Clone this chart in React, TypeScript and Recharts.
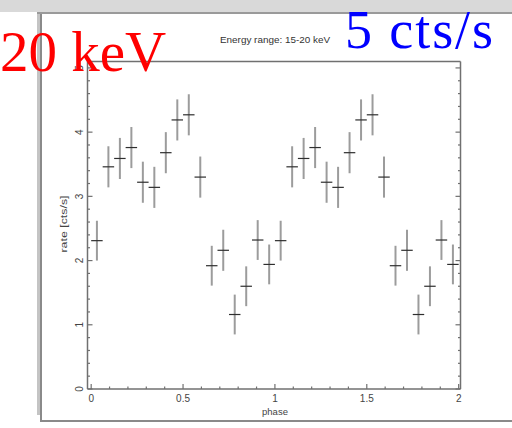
import React from 'react';
import { ScatterChart, Scatter, XAxis, YAxis, ErrorBar } from 'recharts';

// folded light curve, 16 bins per cycle, shown twice
const phases = [
  0.03125, 0.09375, 0.15625, 0.21875, 0.28125, 0.34375, 0.40625, 0.46875,
  0.53125, 0.59375, 0.65625, 0.71875, 0.78125, 0.84375, 0.90625, 0.96875,
  1.03125, 1.09375, 1.15625, 1.21875, 1.28125, 1.34375, 1.40625, 1.46875,
  1.53125, 1.59375, 1.65625, 1.71875, 1.78125, 1.84375, 1.90625, 1.96875,
];
const rates = [
  2.31, 3.46, 3.59, 3.76, 3.22, 3.14, 3.68, 4.19,
  4.27, 3.30, 1.92, 2.16, 1.16, 1.60, 2.32, 1.94,
  2.31, 3.46, 3.59, 3.76, 3.22, 3.14, 3.68, 4.19,
  4.27, 3.30, 1.92, 2.16, 1.16, 1.60, 2.32, 1.94,
];
const rateErrs = [
  0.31, 0.32, 0.32, 0.32, 0.32, 0.32, 0.32, 0.32,
  0.32, 0.32, 0.31, 0.32, 0.31, 0.31, 0.31, 0.31,
  0.31, 0.32, 0.32, 0.32, 0.32, 0.32, 0.32, 0.32,
  0.32, 0.32, 0.31, 0.32, 0.31, 0.31, 0.31, 0.31,
];
const binHalfWidth = 0.03125;

const xTicks = [0, 0.1, 0.2, 0.3, 0.4, 0.5, 0.6, 0.7, 0.8, 0.9, 1, 1.1, 1.2, 1.3, 1.4, 1.5, 1.6, 1.7, 1.8, 1.9, 2];
const xMajor = [0, 0.5, 1, 1.5, 2];
const xLabels = ['0', '0.5', '1', '1.5', '2'];
const yTicks = [0, 0.2, 0.4, 0.6, 0.8, 1, 1.2, 1.4, 1.6, 1.8, 2, 2.2, 2.4, 2.6, 2.8, 3, 3.2, 3.4, 3.6, 3.8, 4, 4.2, 4.4, 4.6, 4.8, 5];
const yMajor = [0, 1, 2, 3, 4, 5];
const yLabels = ['0', '1', '2', '3', '4', '5'];

const data = phases.map((p, i) => ({ phase: p, rate: rates[i], rateErr: rateErrs[i], phaseErr: binHalfWidth }));

const AXIS = '#707070';
const TEXT = '#444';
const FONT = '"Liberation Sans", Arial, sans-serif';
const SERIF = '"Liberation Serif", "Times New Roman", serif';

const find = (v: number, at: number[], labels: string[]) => {
  const i = at.findIndex((a) => Math.abs(a - v) < 1e-6);
  return i >= 0 ? labels[i] : null;
};

const BottomTick = ({ x, y, payload }: any) => {
  const lab = find(payload.value, xMajor, xLabels);
  return (
    <g>
      <line x1={x} x2={x} y1={y} y2={y - (lab ? 5 : 2.5)} stroke={AXIS} strokeWidth={1.2} />
      {lab && (
        <text x={x} y={y + 13} textAnchor="middle" fontSize={10} fill={TEXT} fontFamily={FONT}>
          {lab}
        </text>
      )}
    </g>
  );
};

const TopTick = ({ x, y, payload }: any) => {
  const major = find(payload.value, xMajor, xLabels);
  return <line x1={x} x2={x} y1={y} y2={y + (major ? 5 : 2.5)} stroke={AXIS} strokeWidth={1.2} />;
};

const LeftTick = ({ x, y, payload }: any) => {
  const lab = find(payload.value, yMajor, yLabels);
  const tx = x - 4.5;
  return (
    <g>
      <line x1={x} x2={x + (lab ? 5 : 2.5)} y1={y} y2={y} stroke={AXIS} strokeWidth={1.2} />
      {lab && (
        <text x={tx} y={y} transform={`rotate(-90 ${tx} ${y})`} textAnchor="middle" fontSize={10} fill={TEXT} fontFamily={FONT}>
          {lab}
        </text>
      )}
    </g>
  );
};

const RightTick = ({ x, y, payload }: any) => {
  const major = find(payload.value, yMajor, yLabels);
  return <line x1={x} x2={x - (major ? 5 : 2.5)} y1={y} y2={y} stroke={AXIS} strokeWidth={1.2} />;
};

const axisLine = { stroke: AXIS, strokeWidth: 1.5 };

export default function App() {
  return (
    <div style={{ position: 'absolute', left: 0, top: 0, width: 512, height: 428, background: '#fff', overflow: 'hidden' }}>
      {/* slide background strip and picture frame */}
      <div style={{ position: 'absolute', left: 0, top: 0, width: 512, height: 12, background: '#d9d9d9' }} />
      <div style={{ position: 'absolute', left: 37, top: 12, width: 3, height: 403, background: '#c4c4c4' }} />
      <div style={{ position: 'absolute', left: 40, top: 12, width: 1.5, height: 409, background: '#8a8a8a' }} />
      <div style={{ position: 'absolute', left: 37, top: 12, width: 475, height: 2, background: '#9a9a9a' }} />
      <div style={{ position: 'absolute', left: 40, top: 420, width: 472, height: 1.5, background: '#8a8a8a' }} />

      <div style={{ position: 'absolute', left: 0, top: 0 }}>
        <ScatterChart width={512} height={428} margin={{ top: 31.5, right: 21.5, bottom: 9, left: 27.5 }}>
          <XAxis
            type="number"
            dataKey="phase"
            domain={[-0.02, 2.01]}
            ticks={xTicks}
            interval={0}
            allowDataOverflow
            height={30}
            tickSize={0}
            tickMargin={0}
            tickLine={false}
            axisLine={axisLine}
            tick={(p: any) => <BottomTick {...p} />}
          />
          <XAxis
            xAxisId="top"
            orientation="top"
            type="number"
            domain={[-0.02, 2.01]}
            ticks={xTicks}
            interval={0}
            allowDataOverflow
            height={30}
            tickSize={0}
            tickMargin={0}
            tickLine={false}
            axisLine={axisLine}
            tick={(p: any) => <TopTick {...p} />}
          />
          <YAxis
            type="number"
            dataKey="rate"
            domain={[0, 5.1]}
            ticks={yTicks}
            interval={0}
            allowDataOverflow
            width={60}
            tickSize={0}
            tickMargin={0}
            tickLine={false}
            axisLine={axisLine}
            tick={(p: any) => <LeftTick {...p} />}
          />
          <YAxis
            yAxisId="right"
            orientation="right"
            type="number"
            domain={[0, 5.1]}
            ticks={yTicks}
            interval={0}
            allowDataOverflow
            width={30}
            tickSize={0}
            tickMargin={0}
            tickLine={false}
            axisLine={axisLine}
            tick={(p: any) => <RightTick {...p} />}
          />
          <Scatter data={data} isAnimationActive={false} shape={() => <g />}>
            <ErrorBar dataKey="rateErr" direction="y" width={0} stroke="#9c9c9c" strokeWidth={2} />
            <ErrorBar dataKey="phaseErr" direction="x" width={0} stroke="#2e2e2e" strokeWidth={1.2} />
          </Scatter>
        </ScatterChart>
      </div>

      <svg width={512} height={428} style={{ position: 'absolute', left: 0, top: 0, pointerEvents: 'none' }}>
        <text x={275} y={43} textAnchor="middle" fontSize={9} fill="#333" fontFamily={FONT} textLength={110} lengthAdjust="spacingAndGlyphs">
          Energy range: 15-20 keV
        </text>
        <text x={275} y={415} textAnchor="middle" fontSize={9.5} fill={TEXT} fontFamily={FONT}>
          phase
        </text>
        <text x={67} y={224} transform="rotate(-90 67 224)" textAnchor="middle" fontSize={9.5} fill={TEXT} fontFamily={FONT} textLength={57} lengthAdjust="spacingAndGlyphs">
          rate [cts/s]
        </text>
        <text x={0} y={71} fontSize={57} fill="#ff0000" fontFamily={SERIF}>
          20 keV
        </text>
        <text x={345} y={48} fontSize={54} fill="#0000ff" fontFamily={SERIF} textLength={148} lengthAdjust="spacing">
          5 cts/s
        </text>
      </svg>
    </div>
  );
}
